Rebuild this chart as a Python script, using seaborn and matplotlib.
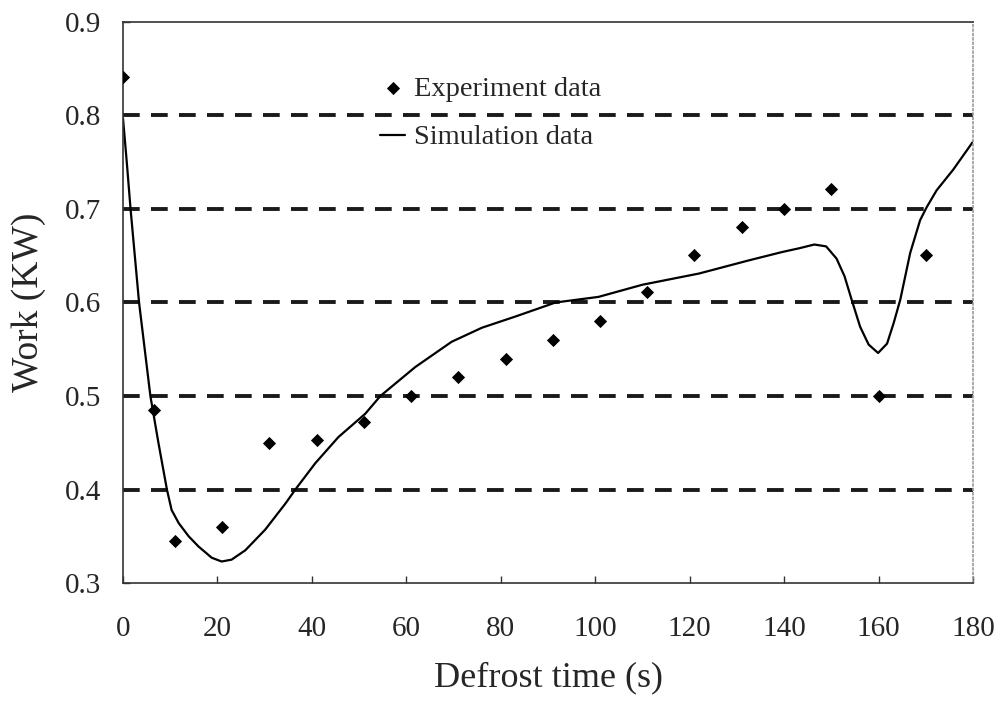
import numpy as np
import pandas as pd
import matplotlib
matplotlib.use("Agg")
import matplotlib.pyplot as plt
import seaborn as sns

# Experiment data
exp_time = [0, 6.5, 11, 21, 31, 41, 51, 61, 71, 81, 91, 101, 111, 121, 131, 140, 150, 160, 170]
exp_work = [0.841, 0.485, 0.345, 0.360, 0.450, 0.453, 0.472, 0.500, 0.520, 0.540, 0.560,
            0.580, 0.611, 0.651, 0.681, 0.700, 0.721, 0.500, 0.651]

sim_time = [0, 0.8, 1.6, 3.4, 5.8, 7.5, 9.3, 10.3, 11.8, 13.9, 16, 18.8, 20.9, 23, 25.9,
            30.1, 34.4, 36.5, 40.7, 45.6, 51.3, 54.5, 61.9, 69.6, 76, 83.1, 91.6, 100.7,
            110, 122, 132.5, 139.6, 143.2, 146.4, 148.9, 151.1, 152.8, 154.3, 156.1, 157.9,
            159.9, 161.8, 163.2, 164.6, 166.7, 168.8, 170.2, 172.3, 175.8, 180]
sim_work = [0.797, 0.75, 0.70, 0.60, 0.50, 0.45, 0.40, 0.378, 0.364, 0.350, 0.339, 0.327,
            0.323, 0.325, 0.335, 0.357, 0.385, 0.400, 0.428, 0.456, 0.481, 0.500, 0.531,
            0.558, 0.573, 0.585, 0.600, 0.606, 0.619, 0.631, 0.645, 0.654, 0.658, 0.662,
            0.660, 0.647, 0.628, 0.603, 0.574, 0.555, 0.546, 0.556, 0.578, 0.603, 0.653,
            0.688, 0.702, 0.720, 0.742, 0.772]

x_ticks = [0, 20, 40, 60, 80, 100, 120, 140, 160, 180]
y_ticks = [0.3, 0.4, 0.5, 0.6, 0.7, 0.8, 0.9]
grid_levels = [0.4, 0.5, 0.6, 0.7, 0.8]

sns.set_theme(style="white")
plt.rcParams['font.family'] = ['Liberation Serif', 'DejaVu Serif']

exp_df = pd.DataFrame({"time": exp_time, "work": exp_work})
sim_df = pd.DataFrame({"time": sim_time, "work": sim_work})

fig = plt.figure(figsize=(10, 7.02), dpi=100)
ax = fig.add_axes([0.123, 0.1695, 0.850, 0.7992])

# dashed gridlines
for yv in grid_levels:
    ax.axhline(yv, color="#1a1a1a", lw=2.8, ls=(0, (4.3, 2.9)), zorder=1)

sns.scatterplot(data=exp_df, x="time", y="work", ax=ax, marker="D", s=45,
                color="black", edgecolor="black", linewidth=0, label="Experiment data", zorder=3)
sns.lineplot(data=sim_df, x="time", y="work", ax=ax, color="black", lw=1.6,
             label="Simulation data", zorder=2, sort=False)

ax.set_xlim(0, 180)
ax.set_ylim(0.3, 0.9)
ax.set_xticks(x_ticks)
ax.set_yticks(y_ticks)
ax.set_xticklabels([str(v) for v in x_ticks], fontsize=21)
ax.set_yticklabels([f"{v:.1f}" for v in y_ticks], fontsize=21)
ax.tick_params(axis="both", direction="in", length=5, width=1, color="#333333",
               bottom=True, left=True)
ax.tick_params(axis="y", pad=16)
ax.tick_params(axis="x", pad=24)

ax.set_xlabel("Defrost time (s)", fontsize=26, labelpad=14)
ax.set_ylabel("Work (KW)", fontsize=27, labelpad=13)

for side in ["left", "bottom", "top"]:
    ax.spines[side].set_color("#333333")
    ax.spines[side].set_linewidth(1.2)
ax.spines["right"].set_color("#999999")
ax.spines["right"].set_linestyle(":")
ax.spines["right"].set_linewidth(1.2)

leg = ax.legend(frameon=False, loc="upper left", bbox_to_anchor=(0.302, 0.904),
                fontsize=20.5, handlelength=0.9, handletextpad=0.3, labelspacing=0.8,
                borderpad=0, borderaxespad=0)

fig.savefig("out.png", dpi=100)
